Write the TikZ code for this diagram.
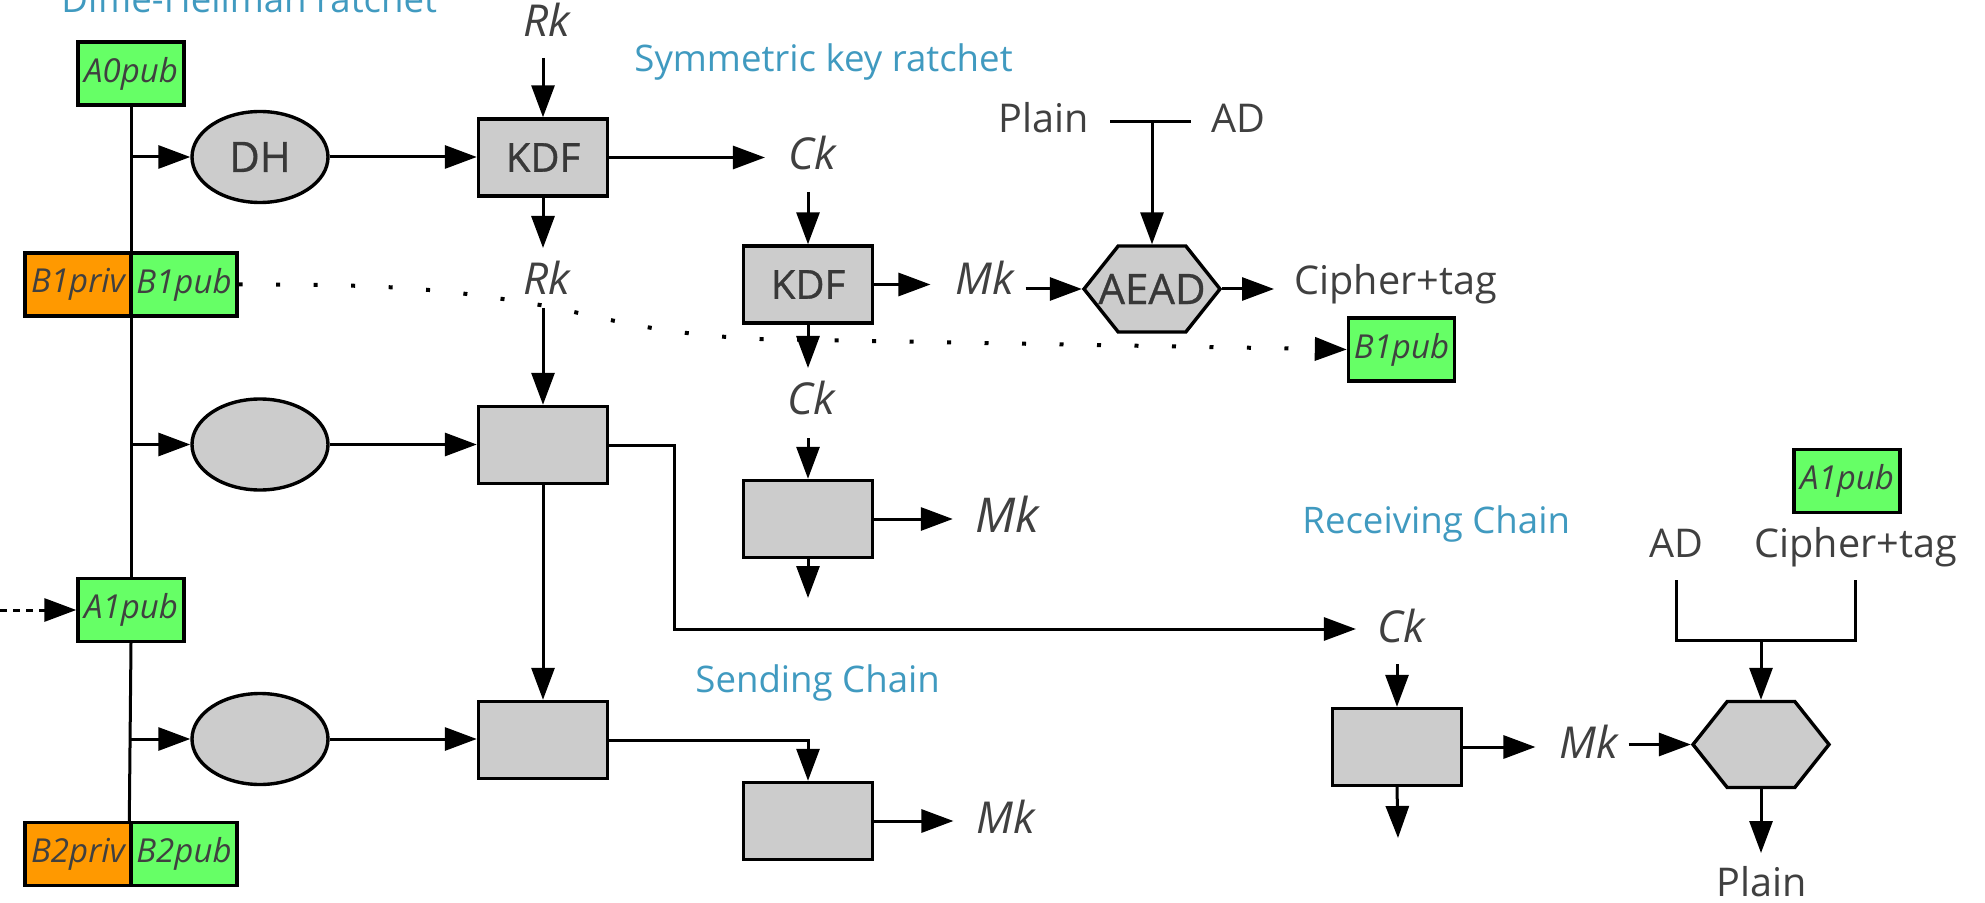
\documentclass[tikz,border=0pt]{standalone}
\usepackage{fontspec}
\setmainfont{Open Sans}
\usetikzlibrary{arrows.meta,shapes.geometric,shapes.symbols}

\definecolor{keygreen}{RGB}{102,255,102}
\definecolor{keyorange}{RGB}{255,153,0}
\definecolor{boxgray}{RGB}{204,204,204}
\definecolor{inkgray}{RGB}{64,64,64}
\definecolor{boxink}{RGB}{56,56,56}
\definecolor{titleblue}{RGB}{64,154,192}

\tikzset{
  wire/.style={line width=1.5pt},
  arr/.style={wire,-{Triangle[length=16pt,width=11.5pt]}},
  dotarr/.style={line width=2pt,dash pattern=on 2pt off 16.75pt,-{Triangle[length=16pt,width=11.5pt]}},
  dasharr/.style={line width=1.5pt,dash pattern=on 3.5pt off 3pt,-{Triangle[length=16pt,width=11.5pt]}},
  shapeline/.style={draw,line width=1.7pt,fill=boxgray,inner sep=0pt,text=boxink},
  boldish/.style={font=\fontsize{#1}{#1}\selectfont\addfontfeature{FakeBold=0.8}},
  kdfbox/.style={shapeline,rectangle,minimum width=64.5pt,minimum height=38.5pt,boldish=20},
  dhoval/.style={shapeline,ellipse,minimum width=68pt,minimum height=45.5pt,boldish=21},
  aeadhex/.style={shapeline,signal,signal to=east and west,signal pointer angle=103,minimum width=68pt,minimum height=43pt,boldish=21},
  keybox/.style={draw,line width=1.7pt,rectangle,minimum width=53pt,minimum height=31.5pt,inner sep=0pt,text=inkgray,font=\fontsize{16.5}{18}\selectfont\itshape},
  pubkey/.style={keybox,fill=keygreen},
  privkey/.style={keybox,fill=keyorange},
  kvar/.style={inner sep=0pt,anchor=base,text=inkgray,font=\fontsize{22}{26}\selectfont\itshape},
  kword/.style={inner sep=0pt,anchor=base,text=inkgray,font=\fontsize{19.8}{23}\selectfont},
  heading/.style={inner sep=0pt,anchor=base west,text=titleblue,font=\fontsize{18.3}{22}\selectfont},
}

\begin{document}
\begin{tikzpicture}[x=0.5pt,y=-0.5pt]
\useasboundingbox[fill=white] (0,0) rectangle (1985,903);

% section headings
\node[heading] (dhtitle) at (61,13) {Diffie-Hellman ratchet};
\node[heading] (symtitle) at (634,72) {Symmetric key ratchet};
\node[heading] (sendtitle) at (695,692) {Sending Chain};
\node[heading] (recvtitle) at (1302,533) {Receiving Chain};

% ratchet key pairs on the left
\node[pubkey] (a0) at (131,73.5) {A0pub};
\node[privkey] (b1priv) at (78,284.5) {B1priv};
\node[pubkey] (b1pub) at (184,284.5) {B1pub};
\node[pubkey] (a1) at (131,610) {A1pub};
\node[privkey] (b2priv) at (78,854) {B2priv};
\node[pubkey] (b2pub) at (184,854) {B2pub};

% Diffie-Hellman steps
\node[dhoval] (dh1) at (260,157) {DH};
\node[dhoval] (dh2) at (260,444.5) {};
\node[dhoval] (dh3) at (260,739) {};

% root chain KDFs
\node[kdfbox] (kdf1) at (543,157.5) {KDF};
\node[kdfbox] (kdf4) at (543,445) {};
\node[kdfbox] (kdf5) at (543,740) {};

% symmetric chain KDFs
\node[kdfbox] (kdf2) at (808,284.5) {KDF};
\node[kdfbox] (kdf3) at (808,519) {};
\node[kdfbox] (kdf6) at (808,821) {};
\node[kdfbox] (kdf7) at (1397,747) {};

% encryption / decryption (label kept zero-width so the hexagon keeps its size)
\node[aeadhex] (aead) at (1152,289) {\makebox[0pt]{AEAD}};
\node[aeadhex] (dec) at (1761,744.5) {};

% keys travelling with the messages
\node[pubkey] (b1pubr) at (1401.5,349.5) {B1pub};
\node[pubkey] (a1pubr) at (1847,481) {A1pub};

% key and data labels
\node[kvar] (rk1) at (547,37) {Rk};
\node[kvar] (rk2) at (547,295) {Rk};
\node[kvar] (ck1) at (812,170) {Ck};
\node[kvar] (ck2) at (811,415) {Ck};
\node[kvar] (ck3) at (1401,642) {Ck};
\node[kvar] (mk1) at (985,295) {Mk};
\node[kvar,font=\fontsize{24}{28}\selectfont\itshape] (mk2) at (1007,532) {Mk};
\node[kvar] (mk3) at (1006,833) {Mk};
\node[kvar] (mk4) at (1589,758) {Mk};
\node[kword] (plain1) at (1044,133) {Plain};
\node[kword] (ad1) at (1238.5,133) {AD};
\node[kword,anchor=base west] (cipher1) at (1294,295) {Cipher+tag};
\node[kword] (ad2) at (1676,557) {AD};
\node[kword,anchor=base west] (cipher2) at (1754,557) {Cipher+tag};
\node[kword] (plain2) at (1762,896) {Plain};

% junctions, bends and open ends
\coordinate (tbarL) at (1110,122);
\coordinate (tbarR) at (1191,122);
\coordinate (tbarM) at (1152,122);
\coordinate (bend1) at (674.5,629);
\coordinate (kdf3out) at (808,598);
\coordinate (kdf7out) at (1398,838);
\coordinate (leftin) at (0,610);
\coordinate (brmid) at (1761,640);
% course of the dotted B1pub line, dipping under Rk
\coordinate (dc1) at (400,284);
\coordinate (dc2) at (450,290);
\coordinate (dotA) at (540,305);
\coordinate (dc3) at (600,316);
\coordinate (dc4) at (650,334);
\coordinate (dotB) at (760,339);

% DH ratchet spine
\draw[wire] (a0.south) -- (a1.north);
\draw[wire] (a1.south) -- (b2pub.north west);
\foreach \d in {dh1,dh2,dh3} \draw[arr] (a0.south |- \d.west) -- (\d.west);
\draw[arr] (dh1.east) -- (dh1.east -| kdf1.west);
\draw[arr] (dh2.east) -- (dh2.east -| kdf4.west);
\draw[arr] (dh3.east) -- (dh3.east -| kdf5.west);
\draw[dasharr] (leftin) -- (a1.west);

% root chain
\draw[arr] ([yshift=-10.5pt]kdf1.north |- rk1.base) -- (kdf1.north);
\draw[arr] (kdf1.south) -- ([yshift=23.5pt]kdf1.south |- rk2.base);
\draw[arr] ([yshift=-6.5pt]kdf4.north |- rk2.base) -- (kdf4.north);
\draw[arr] (kdf4.south) -- (kdf5.north);
\draw[arr] (kdf1.east) -- ([xshift=-11.5pt]kdf1.east -| ck1.west);

% sending chain
\draw[arr] ([yshift=-11pt]kdf2.north |- ck1.base) -- (kdf2.north);
\draw[arr] (kdf2.east) -- ([xshift=-12.5pt]kdf2.east -| mk1.west);
\draw[arr] (kdf2.south) -- ([yshift=23.5pt]kdf2.south |- ck2.base);
\draw[arr] ([yshift=-11.5pt]kdf3.north |- ck2.base) -- (kdf3.north);
\draw[arr] (kdf3.east) -- ([xshift=-11pt]kdf3.east -| mk2.west);
\draw[arr] (kdf3.south) -- (kdf3out);
\draw[arr] (kdf5.east) -| (kdf6.north);
\draw[arr] (kdf6.east) -- ([xshift=-11.5pt]kdf6.east -| mk3.west);

% encryption
\draw[wire] (tbarL) -- (tbarR);
\draw[arr] (tbarM) -- (aead.north);
\draw[arr] ([xshift=5.5pt]mk1.east |- aead.west) -- (aead.west);
\draw[arr] (aead.east) -- ([xshift=-10pt]aead.east -| cipher1.west);
\draw[dotarr] (b1pub.east) .. controls (dc1) and (dc2) .. (dotA)
  .. controls (dc3) and (dc4) .. (dotB) -- (b1pubr.west);

% receiving chain
\draw[arr] (kdf4.east) -| (bend1) -- ([xshift=-10.5pt]bend1 -| ck3.west);
\draw[arr] ([yshift=-11pt]kdf7.north |- ck3.base) -- (kdf7.north);
\draw[arr] (kdf7.east) -- ([xshift=-12pt]kdf7.east -| mk4.west);
\draw[arr] (kdf7.south) -- (kdf7out);
\draw[arr] ([xshift=5pt]mk4.east |- dec.west) -- (dec.west);
\draw[wire] ([yshift=-11.5pt]ad2.base) |- (brmid) -| ([yshift=-11.5pt]cipher2.base);
\draw[arr] (brmid) -- (dec.north);
\draw[arr] (dec.south) -- ([yshift=21.5pt]dec.south |- plain2.base);
\end{tikzpicture}
\end{document}
